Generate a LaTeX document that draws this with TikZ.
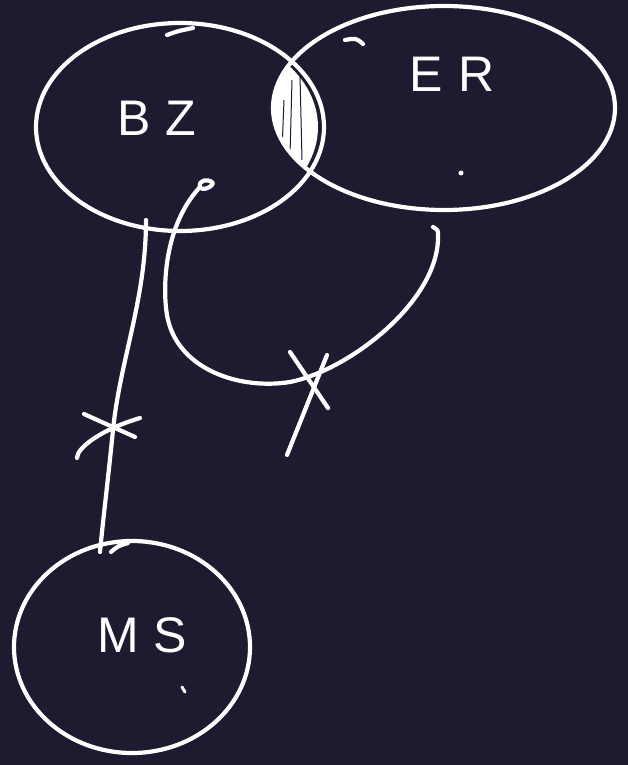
\documentclass[tikz,border=0pt]{standalone}
\usepackage{fontspec}
\setmainfont{Liberation Sans}
\definecolor{bg}{RGB}{30,26,47}
\begin{document}
\begin{tikzpicture}[x=1pt,y=-1pt,
  ink/.style={draw=white,line width=4.2pt,line cap=round,line join=round},
  lbl/.style={text=white,inner sep=0pt,font=\fontsize{50}{60}\selectfont\addfontfeatures{LetterSpace=30}}]
\fill[bg] (0,0) rectangle (628,765);
\useasboundingbox (0,0) rectangle (628,765);
% shaded lens
\begin{scope}
  \clip (180,127) ellipse [x radius=138pt, y radius=100pt];
  \fill[white] (444,108) ellipse [x radius=171pt, y radius=103pt];
\end{scope}
\draw[bg,line width=1pt] (284,100) -- (282,150) (292,80) -- (290,155) (300,75) -- (302,160);
% sets
\draw[ink] (180,127) ellipse [x radius=144pt, y radius=104pt];
\draw[ink] (167,35) .. controls (178,31) .. (193,28);
\draw[ink] (444,108) ellipse [x radius=171pt, y radius=102pt];
\draw[ink] (345,40) .. controls (356,38) .. (363,44);
\draw[ink] (132,647) ellipse [x radius=118pt, y radius=106pt];
\draw[ink] (111,552) .. controls (118,546) .. (128,543);
% labels
\node[lbl] (bz) at (157,118) {BZ};
\node[lbl] (er) at (452,74) {ER};
\node[lbl] (ms) at (142,635) {MS};
\fill[white] (461,173) circle (2.5pt);
\draw[ink,line width=3pt] (182,687) -- (185,692);
% connector BZ - MS
\coordinate (a1) at (146,220);
\coordinate (a2) at (100,552);
\draw[ink] (a1) .. controls (146,300) and (120,360) .. (113,430) .. controls (108,480) and (103,520) .. (a2);
\draw[ink] (84,414) -- (135,437);
\draw[ink] (77,458) .. controls (77,448) and (100,430) .. (140,418);
% connector loop - ER
\coordinate (b1) at (200,187);
\coordinate (b2) at (438,228);
\draw[ink] (b1) .. controls (160,230) and (163,300) .. (168,320) .. controls (180,370) and (240,390) .. (290,382) .. controls (350,370) and (440,300) .. (438,235) .. controls (438,230) .. (433,227);
\draw[ink] (b1) .. controls (198,180) and (208,178) .. (213,183) .. controls (210,190) and (200,190) .. (200,187);
\draw[ink] (290,352) -- (328,408);
\draw[ink] (327,355) -- (287,455);
\end{tikzpicture}
\end{document}
